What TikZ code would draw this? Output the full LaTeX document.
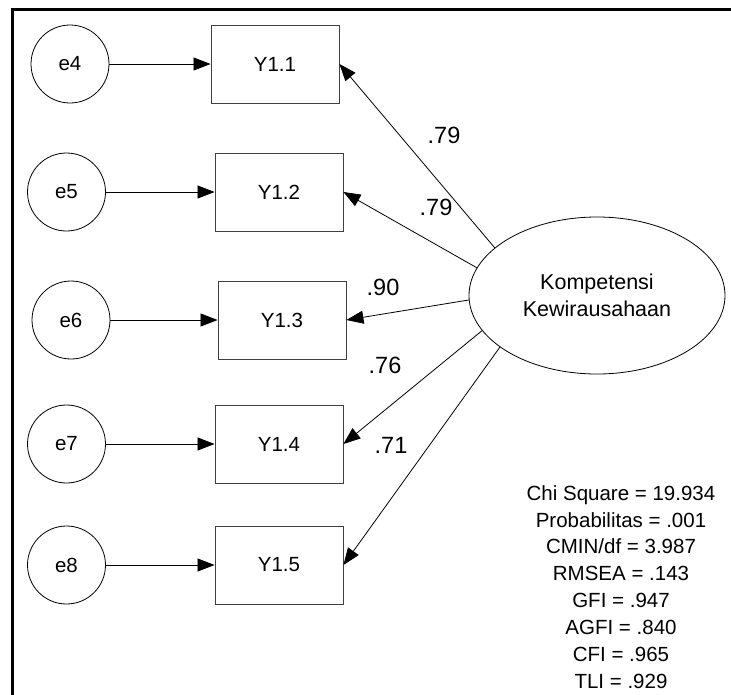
\documentclass[tikz,border=0pt]{standalone}
\usepackage{fontspec}
\setmainfont{Liberation Sans}
\usetikzlibrary{shapes.geometric,arrows.meta}
\begin{document}
\begin{tikzpicture}[x=1pt,y=-1pt,
  every node/.style={font=\fontsize{20.5}{27}\selectfont},
  errvar/.style={circle,draw,line width=0.8pt,minimum size=78pt,inner sep=0pt},
  indicator/.style={rectangle,draw=black!75,line width=0.9pt,minimum width=128pt,minimum height=78pt,inner sep=0pt},
  latent/.style={ellipse,draw,line width=0.8pt,minimum width=256pt,minimum height=157pt,inner sep=0pt,align=center,
    font=\fontsize{21.5}{27}\selectfont},
  regpath/.style={-{Triangle[length=17pt,width=13pt]},line width=0.8pt},
  coef/.style={anchor=base,inner sep=0pt,font=\fontsize{23.5}{28}\selectfont},
  fitstat/.style={anchor=base,inner sep=0pt}
]
\useasboundingbox (0,0) rectangle (731,694);
\clip (0,0) rectangle (731,694);
\fill[white] (0,0) rectangle (731,694);

% outer frame (runs past the right and bottom edges)
\draw[line width=3pt] (12,9) rectangle (780,740);

% error terms
\node[errvar] (e4) at (70,64)    {e4};
\node[errvar] (e5) at (66.5,192) {e5};
\node[errvar] (e6) at (71,320)   {e6};
\node[errvar] (e7) at (66.5,444) {e7};
\node[errvar] (e8) at (66.5,565) {e8};

% observed indicators
\node[indicator] (y1) at (275,64)  {Y1.1};
\node[indicator] (y2) at (279,192) {Y1.2};
\node[indicator] (y3) at (282,320) {Y1.3};
\node[indicator] (y4) at (279,444) {Y1.4};
\node[indicator] (y5) at (279,565) {Y1.5};

% latent construct
\node[latent] (k) at (597,295.5) {Kompetensi\\Kewirausahaan};

% error paths
\draw[regpath] (e4) -- (y1);
\draw[regpath] (e5) -- (y2);
\draw[regpath] (e6) -- (y3);
\draw[regpath] (e7) -- (y4);
\draw[regpath] (e8) -- (y5);

% loadings
\draw[regpath] (k.155.5) -- (y1.east);
\draw[regpath] (k.167.5) -- (y2.east);
\draw[regpath] (k.182.9) -- (y3.east);
\draw[regpath] (k.197.3) -- (y4.east);
\draw[regpath] (k.208)   -- (y5.east);

\node[coef] (l1) at (444,143) {.79};
\node[coef] (l2) at (436,215) {.79};
\node[coef] (l3) at (383,295) {.90};
\node[coef] (l4) at (385,373) {.76};
\node[coef] (l5) at (391,453) {.71};

% goodness-of-fit summary
\node[fitstat] (s1) at (621,500) {Chi Square = 19.934};
\node[fitstat] (s2) at (621,527) {Probabilitas = .001};
\node[fitstat] (s3) at (621,553) {CMIN/df = 3.987};
\node[fitstat] (s4) at (621,580) {RMSEA = .143};
\node[fitstat] (s5) at (621,607) {GFI = .947};
\node[fitstat] (s6) at (621,634) {AGFI = .840};
\node[fitstat] (s7) at (621,661) {CFI = .965};
\node[fitstat] (s8) at (621,688) {TLI = .929};
\end{tikzpicture}
\end{document}
